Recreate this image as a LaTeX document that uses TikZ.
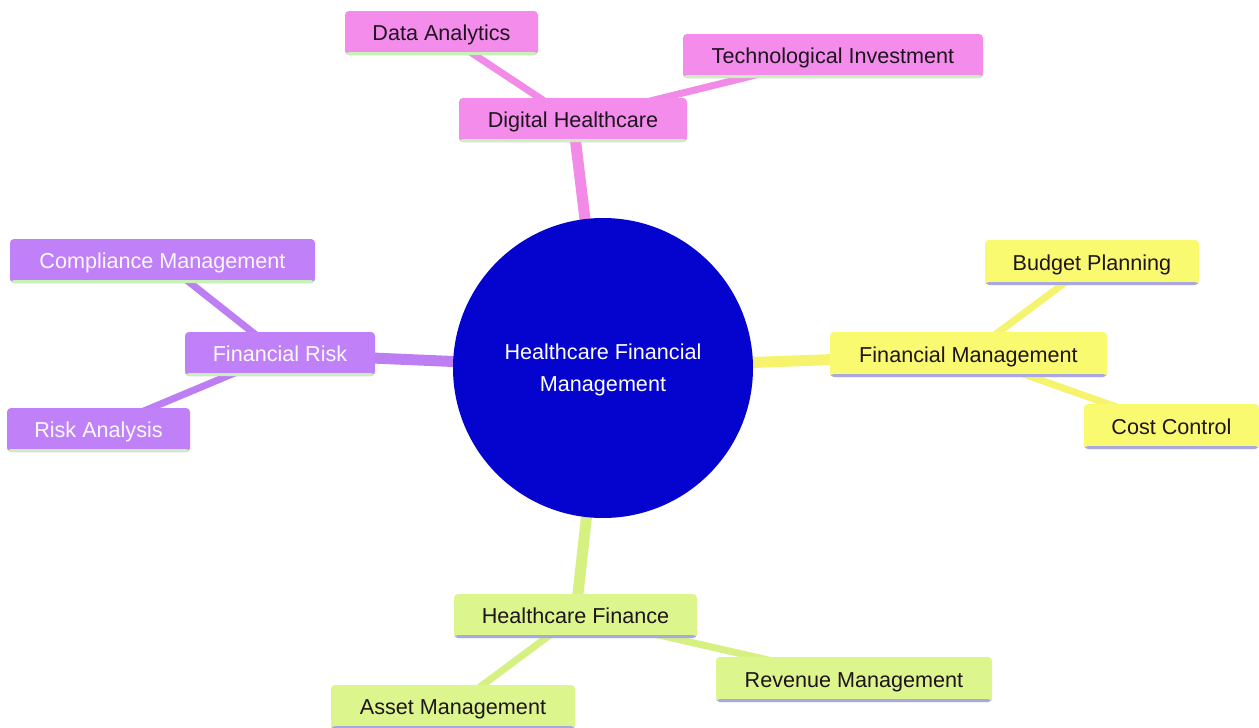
\documentclass[tikz,border=0pt]{standalone}
\usepackage{fontspec}
\setmainfont{Liberation Sans}
\pgfdeclarelayer{bg}
\pgfsetlayers{bg,main}
\definecolor{pinkfill}{RGB}{244,140,236}
\definecolor{purplefill}{RGB}{192,128,248}
\definecolor{yellowfill}{RGB}{250,250,112}
\definecolor{greenfill}{RGB}{220,245,140}
\definecolor{pinkedge}{RGB}{242,138,232}
\definecolor{purpleedge}{RGB}{188,126,242}
\definecolor{yellowedge}{RGB}{246,244,110}
\definecolor{greenedge}{RGB}{214,240,130}
\definecolor{centerblue}{RGB}{4,4,206}
\definecolor{mintline}{RGB}{200,240,185}
\definecolor{lavline}{RGB}{170,168,225}
\definecolor{darktext}{RGB}{30,20,30}
\tikzset{
  mmbox/.style={rectangle, rounded corners=2pt, inner sep=0pt, minimum height=22pt,
    font=\fontsize{10.8}{13}\selectfont, text height=8.8pt, text depth=1.2pt},
  pinkbox/.style={mmbox, fill=pinkfill, text=darktext,
    path picture={\fill[mintline] (path picture bounding box.south west) rectangle ([yshift=1.5pt]path picture bounding box.south east);}},
  purplebox/.style={mmbox, fill=purplefill, text=white!95!purplefill,
    path picture={\fill[mintline] (path picture bounding box.south west) rectangle ([yshift=1.5pt]path picture bounding box.south east);}},
  yellowbox/.style={mmbox, fill=yellowfill, text=darktext,
    path picture={\fill[lavline] (path picture bounding box.south west) rectangle ([yshift=1.5pt]path picture bounding box.south east);}},
  greenbox/.style={mmbox, fill=greenfill, text=darktext,
    path picture={\fill[lavline] (path picture bounding box.south west) rectangle ([yshift=1.5pt]path picture bounding box.south east);}},
  mainedge/.style={line width=5.5pt},
  subedge/.style={line width=3.5pt},
}
\begin{document}
\begin{tikzpicture}[x=0.5pt,y=-0.5pt]
\useasboundingbox (0,0) rectangle (1259,728);
\clip (0,0) rectangle (1259,728);

% center
\node[circle, fill=centerblue, minimum size=150pt, inner sep=0pt,
  label={[yshift=-1pt, text=white, align=center, font=\fontsize{10.8}{16}\selectfont]center:Healthcare Financial\\Management}] (ctr) at (603,368) {};

% top branch
\node[pinkbox, minimum width=114pt] (dh) at (573,120) {Digital Healthcare};
\node[pinkbox, minimum width=96.5pt] (da) at (441.5,33) {Data Analytics};
\node[pinkbox, minimum width=150pt] (ti) at (833,56) {Technological Investment};

% left branch
\node[purplebox, minimum width=95pt] (fr) at (280,354) {Financial Risk};
\node[purplebox, minimum width=152.5pt] (cm) at (162.5,261) {Compliance Management};
\node[purplebox, minimum width=91.5pt] (ra) at (98.5,430) {Risk Analysis};

% right branch
\node[yellowbox, minimum width=138.5pt, minimum height=22.5pt] (fm) at (968.5,354.5) {Financial Management};
\node[yellowbox, minimum width=107pt, minimum height=22.5pt] (bp) at (1092,262.5) {Budget Planning};
\node[yellowbox, minimum width=87.5pt, minimum height=22.5pt] (cc) at (1171.5,426.5) {Cost Control};

% bottom branch
\node[greenbox, minimum width=121.5pt] (hf) at (575.5,616) {Healthcare Finance};
\node[greenbox, minimum width=138pt, minimum height=22.5pt] (rm) at (854,679.5) {Revenue Management};
\node[greenbox, minimum width=122pt] (am) at (453,707) {Asset Management};

\begin{pgfonlayer}{bg}
\fill[white] (0,0) rectangle (1259,728);
\draw[mainedge, pinkedge] (ctr.center) -- (dh.center);
\draw[subedge, pinkedge] (dh.center) -- (da.center);
\draw[subedge, pinkedge] (dh.center) -- (ti.center);
\draw[mainedge, purpleedge] (ctr.center) -- (fr.center);
\draw[subedge, purpleedge] (fr.center) -- (cm.center);
\draw[subedge, purpleedge] (fr.center) -- (ra.center);
\draw[mainedge, yellowedge] (ctr.center) -- (fm.center);
\draw[subedge, yellowedge] (fm.center) -- (bp.center);
\draw[subedge, yellowedge] (fm.center) -- (cc.center);
\draw[mainedge, greenedge] (ctr.center) -- (hf.center);
\draw[subedge, greenedge] (hf.center) -- (rm.center);
\draw[subedge, greenedge] (hf.center) -- (am.center);
\end{pgfonlayer}
\end{tikzpicture}
\end{document}
